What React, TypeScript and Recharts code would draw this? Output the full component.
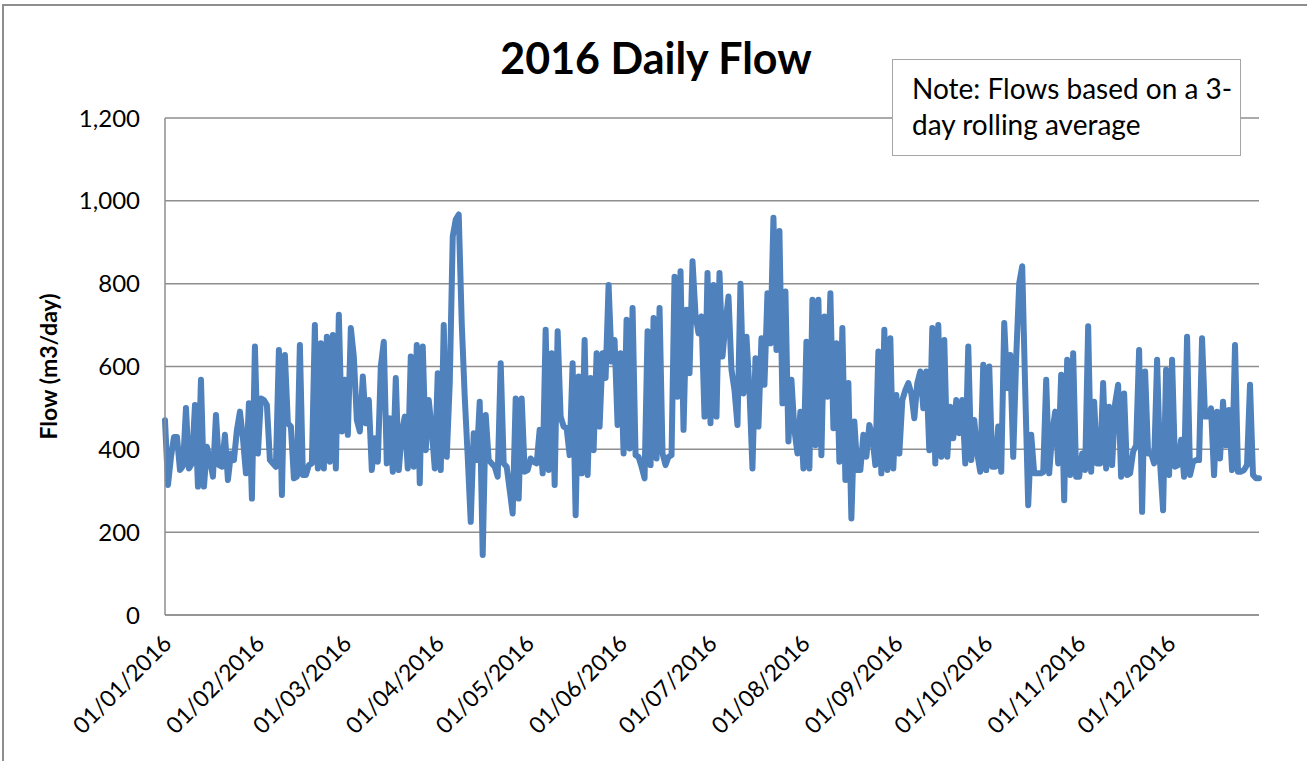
import { LineChart, Line, XAxis, YAxis, CartesianGrid, Label } from 'recharts'

// Daily flow (m3/day), 3-day rolling average, read month by month
const jan = [470, 314, 382, 430, 430, 350, 360, 500, 354, 366, 507, 310, 568, 310, 406, 374, 334, 483, 362, 358, 435, 326, 390, 374, 447, 491, 427, 342, 511, 281, 648]
const feb = [390, 523, 519, 507, 374, 366, 358, 640, 290, 628, 463, 455, 330, 334, 652, 338, 338, 362, 366, 700, 354, 656, 354, 672, 370, 676, 354, 725, 443]
const mar = [568, 435, 693, 624, 471, 443, 576, 463, 519, 350, 427, 370, 600, 660, 366, 475, 346, 572, 350, 439, 479, 354, 624, 358, 652, 318, 648, 398, 519, 447, 354]
const apr = [584, 350, 700, 382, 560, 914, 955, 967, 705, 527, 382, 225, 439, 374, 515, 145, 483, 374, 366, 358, 334, 608, 366, 358, 302, 245, 523, 281, 523, 346]
const may = [350, 378, 370, 366, 447, 342, 689, 350, 632, 314, 685, 479, 455, 451, 386, 608, 241, 576, 342, 664, 338, 572, 398, 632, 455, 632, 572, 797, 612, 664, 459]
const jun = [632, 390, 713, 402, 741, 386, 382, 358, 330, 685, 362, 717, 378, 741, 390, 362, 382, 386, 817, 527, 830, 447, 737, 584, 854, 725, 680, 721, 479, 826]
const jul = [463, 797, 479, 826, 624, 705, 769, 592, 543, 459, 800, 535, 672, 543, 354, 620, 455, 668, 556, 777, 656, 959, 640, 927, 511, 781, 419, 568, 447, 390, 491]
const aug = [354, 660, 354, 761, 410, 761, 386, 721, 527, 777, 451, 656, 370, 693, 326, 560, 233, 467, 350, 350, 435, 382, 459, 431, 362, 636, 342, 689, 350, 668, 354]
const sep = [531, 390, 519, 543, 560, 535, 475, 560, 588, 499, 588, 398, 693, 366, 700, 382, 664, 382, 503, 427, 519, 439, 519, 366, 648, 374, 471, 390, 346, 604]
const oct = [350, 600, 358, 358, 455, 346, 705, 548, 628, 382, 624, 801, 842, 543, 265, 435, 342, 342, 342, 345, 568, 342, 439, 491, 366, 580, 277, 616, 338, 632, 334]
const nov = [334, 390, 350, 697, 346, 515, 366, 366, 560, 354, 503, 362, 511, 556, 334, 535, 338, 342, 394, 410, 640, 249, 588, 390, 390, 366, 616, 366, 253, 592]
const dec = [338, 616, 358, 362, 423, 334, 672, 338, 370, 374, 374, 668, 479, 479, 499, 338, 491, 378, 515, 410, 495, 350, 652, 346, 346, 350, 362, 556, 338, 330, 330]

const monthLabels = [
  '01/01/2016', '01/02/2016', '01/03/2016', '01/04/2016', '01/05/2016', '01/06/2016',
  '01/07/2016', '01/08/2016', '01/09/2016', '01/10/2016', '01/11/2016', '01/12/2016',
]
const yTicks = [0, 200, 400, 600, 800, 1000, 1200]

const months = [jan, feb, mar, apr, may, jun, jul, aug, sep, oct, nov, dec]
const flow = months.flat()
// day index of the first of each month
const monthStarts = months.map((_, i) => months.slice(0, i).reduce((s, m) => s + m.length, 0))
const chartData = flow.map((v, i) => ({ day: i, flow: v }))

const gridColor = '#8e8e8e'
const font = 'Lato, sans-serif'

function DateTick({ x, y, payload }: any) {
  const label = monthLabels[monthStarts.indexOf(payload.value)]
  const px = x + 8
  const py = y + 30
  return (
    <text
      x={px}
      y={py}
      transform={`rotate(-45 ${px} ${py})`}
      textAnchor="end"
      fontSize={23}
      fontFamily={font}
      fill="#000"
    >
      {label}
    </text>
  )
}

export default function App() {
  return (
    <div
      style={{
        position: 'absolute',
        left: 0,
        top: 0,
        width: 1307,
        height: 761,
        background: '#fff',
        overflow: 'hidden',
        fontFamily: font,
      }}
    >
      {/* chart area border */}
      <div
        style={{
          position: 'absolute',
          left: 2,
          top: 4,
          width: 1320,
          height: 780,
          borderTop: `2px solid ${gridColor}`,
          borderLeft: `2px solid ${gridColor}`,
        }}
      />

      <LineChart
        width={1307}
        height={761}
        data={chartData}
        margin={{ top: 118, right: 48, bottom: 46, left: 0 }}
        style={{ position: 'absolute', left: 0, top: 0 }}
      >
        <CartesianGrid vertical={false} stroke={gridColor} strokeWidth={1.5} />
        <XAxis
          type="number"
          dataKey="day"
          domain={[0, 365]}
          ticks={monthStarts}
          interval={0}
          height={100}
          tickSize={0}
          tickMargin={0}
          tickLine={false}
          axisLine={{ stroke: gridColor, strokeWidth: 1.5 }}
          tick={<DateTick />}
        />
        <YAxis
          domain={[0, 1200]}
          ticks={yTicks}
          width={165}
          tickSize={0}
          tickMargin={25}
          tickLine={false}
          axisLine={{ stroke: gridColor, strokeWidth: 1.5 }}
          tickFormatter={(v: number) => v.toLocaleString('en-US')}
          tick={{ fill: '#000', fontSize: 24, fontFamily: font }}
        >
          <Label
            content={({ viewBox }: any) => {
              const cx = viewBox.x + 48
              const cy = viewBox.y + viewBox.height / 2
              return (
                <text
                  x={cx}
                  y={cy}
                  transform={`rotate(-90 ${cx} ${cy})`}
                  textAnchor="middle"
                  dominantBaseline="central"
                  fontSize={23}
                  fontWeight="bold"
                  fontFamily={font}
                  fill="#000"
                >
                  Flow (m3/day)
                </text>
              )
            }}
          />
        </YAxis>
        <Line
          type="linear"
          dataKey="flow"
          stroke="#4f81bd"
          strokeWidth={6}
          strokeLinejoin="round"
          strokeLinecap="round"
          dot={false}
          isAnimationActive={false}
        />
      </LineChart>

      {/* title */}
      <div
        style={{
          position: 'absolute',
          left: 0,
          top: 30,
          width: 1312,
          textAlign: 'center',
          fontSize: 43,
          fontWeight: 'bold',
          lineHeight: '56px',
          color: '#000',
        }}
      >
        2016 Daily Flow
      </div>

      {/* note box */}
      <div
        style={{
          position: 'absolute',
          left: 892,
          top: 59,
          width: 347,
          height: 95,
          background: '#fff',
          border: '1px solid #a6a6a6',
          boxSizing: 'content-box',
        }}
      >
        <div
          style={{
            position: 'absolute',
            left: 19,
            top: 10,
            fontSize: 28,
            lineHeight: '36px',
            color: '#000',
            whiteSpace: 'nowrap',
          }}
        >
          Note: Flows based on a 3-
          <br />
          day rolling average
        </div>
      </div>
    </div>
  )
}
